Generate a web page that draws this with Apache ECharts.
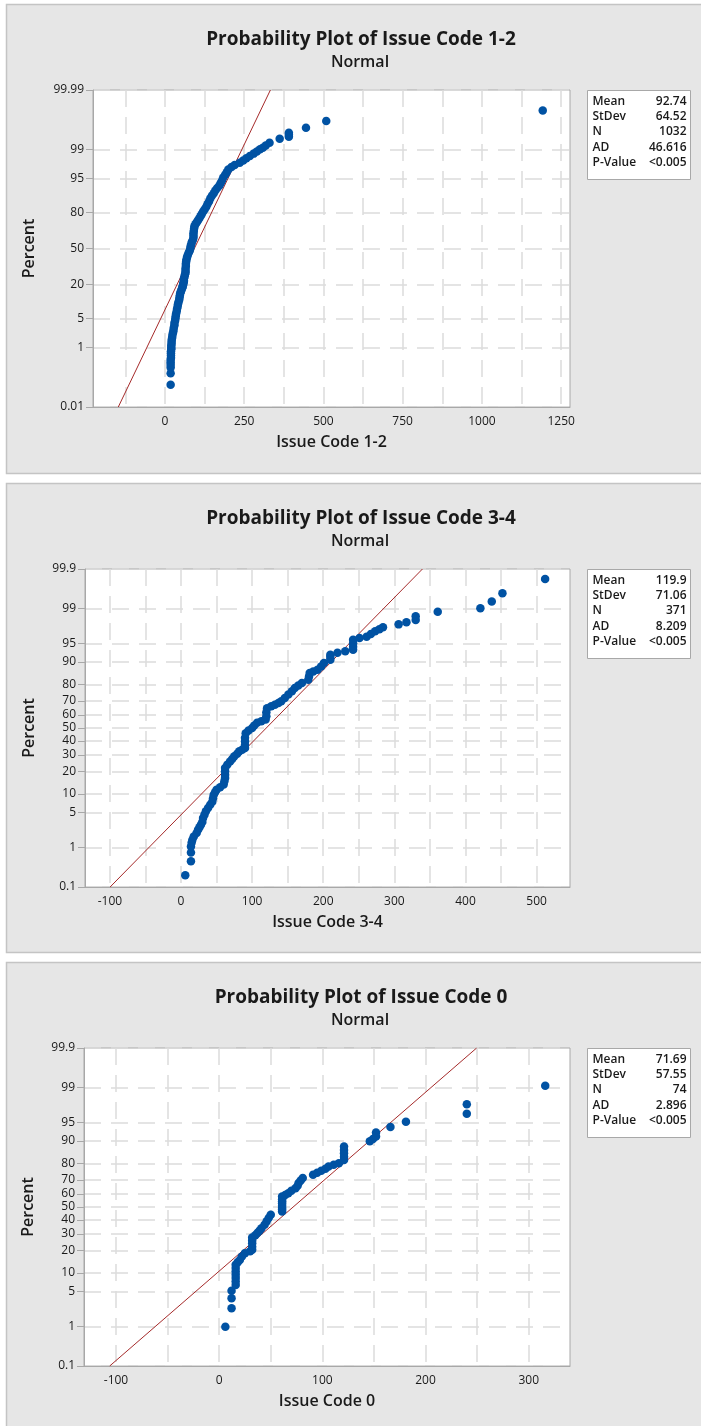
<!DOCTYPE html>
<html>
<head>
<meta charset="utf-8">
<title>Probability Plots</title>
<script src="https://cdn.jsdelivr.net/npm/echarts@6/dist/echarts.min.js"></script>
<style>
  html, body { margin: 0; padding: 0; background: #ffffff; }
  #chart { width: 701px; height: 1426px; }
</style>
</head>
<body>
<div id="chart"></div>
<script>
// Points: data value and plotted percent (median rank)
const code12Values = [18, 18, 18, 18, 18, 18, 19, 19, 19, 19, 20, 20, 20, 21, 21, 22, 23, 24, 26, 27,
  28, 30, 30, 32, 33, 34, 35, 37, 38, 40, 41, 43, 45, 46, 47, 48, 50, 52, 54, 56,
  57, 58, 59, 60, 60, 62, 63, 65, 65, 65, 66, 66, 67, 68, 70, 72, 75, 78, 80, 81,
  83, 85, 88, 90, 90, 90, 91, 92, 93, 96, 100, 104, 108, 112, 116, 120, 125, 130, 134, 139,
  143, 148, 154, 159, 165, 172, 176, 180, 184, 190, 195, 200, 210, 220, 236, 247, 257, 268, 280, 290,
  300, 309, 318, 330, 362, 391, 391, 391, 445, 509, 1192];
const code12Percents = [0.07, 0.17, 0.26, 0.32, 0.38, 0.45, 0.52, 0.6, 0.7, 0.8, 0.9, 1.0, 1.15, 1.3, 1.5, 1.7, 1.9, 2.2, 2.5, 2.8,
  3.2, 3.6, 4.0, 4.5, 5.0, 5.6, 6.2, 7.0, 7.8, 8.6, 9.5, 10.5, 11.5, 12.5, 13.5, 14.5, 15.5, 16.5, 17.5, 18.5,
  19.5, 20.5, 21.5, 22.5, 24, 25.5, 27, 28.5, 30, 32, 34, 36, 38, 40, 42, 44, 46, 48, 50, 52,
  54, 56, 58, 60, 62, 64, 66, 68, 70, 71.5, 73, 74.5, 76, 77.5, 79, 80.5, 82, 83.5, 85, 86.5,
  88, 89.2, 90.3, 91.3, 92.2, 93, 93.8, 94.5, 95.2, 95.8, 96.3, 96.8, 97.2, 97.5, 97.8, 98.05, 98.3, 98.5, 98.7, 98.85,
  99.0, 99.1, 99.22, 99.35, 99.5, 99.56, 99.62, 99.67, 99.77, 99.86, 99.94];

const code34Values = [6, 14, 14, 14, 15, 16, 18, 22, 24, 26, 28, 30, 31, 33, 35, 38, 41, 44, 45, 46,
  48, 50, 55, 60, 61, 62, 62, 62, 62, 65, 69, 72, 75, 79, 82, 86, 90, 90, 90, 90,
  91, 95, 100, 103, 107, 113, 119, 120, 120, 121, 127, 132, 137, 141, 146, 151, 156, 160, 165, 170,
  179, 180, 181, 186, 192, 197, 201, 210, 210, 210, 220, 231, 242, 242, 242, 242, 251, 261, 267, 273,
  279, 284, 306, 317, 330, 330, 361, 421, 437, 452, 512];
const code34Percents = [0.21, 0.48, 0.78, 1.07, 1.3, 1.5, 1.75, 2.07, 2.4, 2.7, 3.0, 3.4, 4.0, 4.6, 5.3, 6.0, 6.8, 7.6, 8.6, 9.7,
  10.6, 11.5, 12.5, 13.6, 15, 16.5, 18.2, 20, 21.8, 23.8, 25.8, 27.4, 29.1, 30.8, 32.5, 33.7, 34.8, 37, 39.8, 42.5,
  46, 48, 50, 52, 54, 55.2, 56.5, 59, 62, 65, 66.3, 67.5, 68.7, 69.8, 72, 74.2, 76.2, 78.2, 79.6, 80.9,
  82.6, 84.2, 85.7, 86.4, 87.1, 88.4, 89.7, 90.8, 91.6, 92.3, 92.8, 93.2, 93.6, 94.3, 95, 95.7, 96, 96.2, 96.6, 97.0,
  97.25, 97.5, 97.8, 98.0, 98.2, 98.5, 98.8, 99.0, 99.3, 99.56, 99.81];

const code0Values = [6, 12, 12, 12, 16, 16, 16, 16, 16, 16, 16, 18, 20, 22, 25, 30, 32, 32, 32, 32,
  32, 35, 37, 39, 41, 44, 46, 48, 50, 61, 61, 61, 61, 61, 61, 61, 61, 64, 67, 70,
  74, 76, 77, 79, 81, 91, 95, 99, 103, 106, 111, 116, 121, 121, 121, 121, 121, 146, 149, 152,
  152, 166, 181, 240, 240, 316];
const code0Percents = [1.0, 2.45, 3.8, 5.2, 6.5, 7.4, 8.4, 9.4, 10.5, 11.8, 13.1, 14.2, 15.2, 16.8, 18.5, 19.5, 20.3, 22, 24, 25.8,
  27.7, 29.1, 30.6, 32.3, 34, 36.5, 39, 41.5, 44, 46.5, 48, 49.5, 51, 53, 54.5, 56, 58, 59.3, 60.6, 62.4,
  64.3, 66, 67.9, 69.6, 71.3, 73.5, 74.7, 75.9, 77.2, 78.5, 79.4, 80.3, 82, 83.6, 85.2, 86.6, 88, 89.9, 90.7, 91.5,
  92.6, 94, 95.1, 96.5, 97.7, 99.08];

// Fitted normal lines: end points (value, percent) at the plot edges
const fit12Values = [-147.2, 332.7];
const fit12Percents = [0.01, 99.99];
const fit34Values = [-99.7, 339.5];
const fit34Percents = [0.1, 99.9];
const fit0Values = [-106.1, 249.5];
const fit0Percents = [0.1, 99.9];

// Axis ticks
const pctTicksWide = [0.01, 1, 5, 20, 50, 80, 95, 99, 99.99];
const pctTicksNarrow = [0.1, 1, 5, 10, 20, 30, 40, 50, 60, 70, 80, 90, 95, 99, 99.9];
const xLabels12 = [0, 250, 500, 750, 1000, 1250];
const xGrid12 = [-125, 0, 125, 250, 375, 500, 625, 750, 875, 1000, 1125, 1250];
const xLabels34 = [-100, 0, 100, 200, 300, 400, 500];
const xGrid34 = [-100, -50, 0, 50, 100, 150, 200, 250, 300, 350, 400, 450, 500];
const xLabels0 = [-100, 0, 100, 200, 300];
const xGrid0 = [-100, -50, 0, 50, 100, 150, 200, 250, 300];

// Summary statistics
const statNames = ['Mean', 'StDev', 'N', 'AD', 'P-Value'];
const stats12 = ['92.74', '64.52', '1032', '46.616', '<0.005'];
const stats34 = ['119.9', '71.06', '371', '8.209', '<0.005'];
const stats0 = ['71.69', '57.55', '74', '2.896', '<0.005'];

// inverse standard normal CDF (probability axis transform)
function probit(pct) {
  const p = pct / 100;
  const a = [-39.69683028665376, 220.9460984245205, -275.9285104469687, 138.3577518672690, -30.66479806614716, 2.506628277459239];
  const b = [-54.47609879822406, 161.5858368580409, -155.6989798598866, 66.80131188771972, -13.28068155288572];
  const c = [-0.007784894002430293, -0.3223964580411365, -2.400758277161838, -2.549732539343734, 4.374664141464968, 2.938163982698783];
  const d = [0.007784695709041462, 0.3224671290700398, 2.445134137142996, 3.754408661907416];
  const plow = 0.02425, phigh = 1 - plow;
  let q, r;
  if (p < plow) {
    q = Math.sqrt(-2 * Math.log(p));
    return (((((c[0] * q + c[1]) * q + c[2]) * q + c[3]) * q + c[4]) * q + c[5]) /
      ((((d[0] * q + d[1]) * q + d[2]) * q + d[3]) * q + 1);
  }
  if (p <= phigh) {
    q = p - 0.5;
    r = q * q;
    return (((((a[0] * r + a[1]) * r + a[2]) * r + a[3]) * r + a[4]) * r + a[5]) * q /
      (((((b[0] * r + b[1]) * r + b[2]) * r + b[3]) * r + b[4]) * r + 1);
  }
  q = Math.sqrt(-2 * Math.log(1 - p));
  return -(((((c[0] * q + c[1]) * q + c[2]) * q + c[3]) * q + c[4]) * q + c[5]) /
    ((((d[0] * q + d[1]) * q + d[2]) * q + d[3]) * q + 1);
}

const FONT = '"Open Sans", "Noto Sans", sans-serif';
const TEXT = '#1a1a1a';
const AXIS = '#a8a8a8';
const GRID_LINE = { color: '#dcdcdc', width: 1.5, type: [17, 10] };

const panels = [
  { top: 4, name: 'Issue Code 1-2', values: code12Values, percents: code12Percents,
    fitV: fit12Values, fitP: fit12Percents, pTicks: pctTicksWide,
    xMin: -227, xMax: 1278, xLabels: xLabels12, xGrid: xGrid12, stats: stats12,
    grid: { left: 93, width: 477, height: 317 } },
  { top: 483, name: 'Issue Code 3-4', values: code34Values, percents: code34Percents,
    fitV: fit34Values, fitP: fit34Percents, pTicks: pctTicksNarrow,
    xMin: -135, xMax: 547, xLabels: xLabels34, xGrid: xGrid34, stats: stats34,
    grid: { left: 85, width: 485, height: 318 } },
  { top: 962, name: 'Issue Code 0', values: code0Values, percents: code0Percents,
    fitV: fit0Values, fitP: fit0Percents, pTicks: pctTicksNarrow,
    xMin: -131, xMax: 340, xLabels: xLabels0, xGrid: xGrid0, stats: stats0,
    grid: { left: 84, width: 486, height: 318 } }
];

const titles = [];
const grids = [];
const xAxes = [];
const yAxes = [];
const series = [];
const graphics = [];

panels.forEach((pn, i) => {
  const plotTop = pn.top + 86;
  const zTicks = pn.pTicks.map(probit);

  graphics.push({
    type: 'rect', z: -100,
    shape: { x: 6.5, y: pn.top + 0.5, width: 720, height: 469 },
    style: { fill: '#e6e6e6', stroke: '#c4c4c4', lineWidth: 1.5 }
  });

  titles.push({
    text: 'Probability Plot of ' + pn.name,
    left: 356, top: pn.top + 21, textAlign: 'center',
    textStyle: { fontFamily: FONT, fontSize: 19, fontWeight: 'bold', color: TEXT }
  });
  titles.push({
    text: 'Normal',
    left: 355, top: pn.top + 45, textAlign: 'center',
    textStyle: { fontFamily: FONT, fontSize: 16, fontWeight: 600, color: TEXT }
  });

  grids.push({
    left: pn.grid.left, top: plotTop, width: pn.grid.width, height: pn.grid.height,
    show: true, backgroundColor: '#ffffff', borderColor: AXIS, borderWidth: 1
  });

  xAxes.push({
    type: 'value', gridIndex: i, min: pn.xMin, max: pn.xMax,
    name: pn.name, nameLocation: 'middle', nameGap: 27,
    nameTextStyle: { fontFamily: FONT, fontSize: 16, fontWeight: 600, color: TEXT },
    axisLine: { show: true, onZero: false, lineStyle: { color: AXIS } },
    axisTick: { show: false, customValues: pn.xGrid },
    axisLabel: { customValues: pn.xLabels, fontFamily: FONT, fontSize: 12, color: TEXT, margin: 9,
      formatter: (v) => String(v) },
    splitLine: { show: true, lineStyle: GRID_LINE }
  });

  yAxes.push({
    type: 'value', gridIndex: i, min: zTicks[0], max: zTicks[zTicks.length - 1],
    name: 'Percent', nameLocation: 'middle', nameGap: i === 0 ? 56 : 48, nameRotate: 90,
    nameTextStyle: { fontFamily: FONT, fontSize: 16, fontWeight: 600, color: TEXT },
    axisLine: { show: true, onZero: false, lineStyle: { color: AXIS } },
    axisTick: { show: true, inside: false, length: 7, customValues: zTicks, lineStyle: { color: AXIS } },
    axisLabel: {
      customValues: zTicks, fontFamily: FONT, fontSize: 12, color: TEXT, margin: 9,
      formatter: (val) => {
        let best = 0;
        zTicks.forEach((z, k) => { if (Math.abs(z - val) < Math.abs(zTicks[best] - val)) best = k; });
        return String(pn.pTicks[best]);
      }
    },
    splitLine: { show: true, lineStyle: GRID_LINE }
  });

  series.push({
    type: 'line', xAxisIndex: i, yAxisIndex: i, z: 3,
    data: pn.fitV.map((v, k) => [v, probit(pn.fitP[k])]),
    symbol: 'none', silent: true,
    lineStyle: { color: '#a52a2a', width: 1 }
  });
  series.push({
    type: 'scatter', xAxisIndex: i, yAxisIndex: i, z: 4,
    data: pn.values.map((v, k) => [v, probit(pn.percents[k])]),
    symbol: 'circle', symbolSize: 8.5,
    itemStyle: { color: '#0052a3', opacity: 1 }
  });

  // statistics box
  const boxChildren = [{
    type: 'rect', shape: { x: 0, y: 0, width: 103, height: 89 },
    style: { fill: '#ffffff', stroke: AXIS, lineWidth: 1 }
  }];
  statNames.forEach((nm, k) => {
    boxChildren.push({
      type: 'text', x: 5, y: 11 + k * 15.2,
      style: { text: nm, fill: TEXT, font: '600 12px ' + FONT, textVerticalAlign: 'middle' }
    });
    boxChildren.push({
      type: 'text', x: 99, y: 11 + k * 15.2,
      style: { text: pn.stats[k], fill: TEXT, font: '600 12px ' + FONT, textAlign: 'right', textVerticalAlign: 'middle' }
    });
  });
  graphics.push({ type: 'group', x: 587.5, y: plotTop + 0.5, z: 100, children: boxChildren });
});

const chart = echarts.init(document.getElementById('chart'), null, { renderer: 'canvas' });
chart.setOption({
  backgroundColor: '#ffffff',
  animation: false,
  title: titles,
  grid: grids,
  xAxis: xAxes,
  yAxis: yAxes,
  series: series,
  graphic: graphics
});
</script>
</body>
</html>
